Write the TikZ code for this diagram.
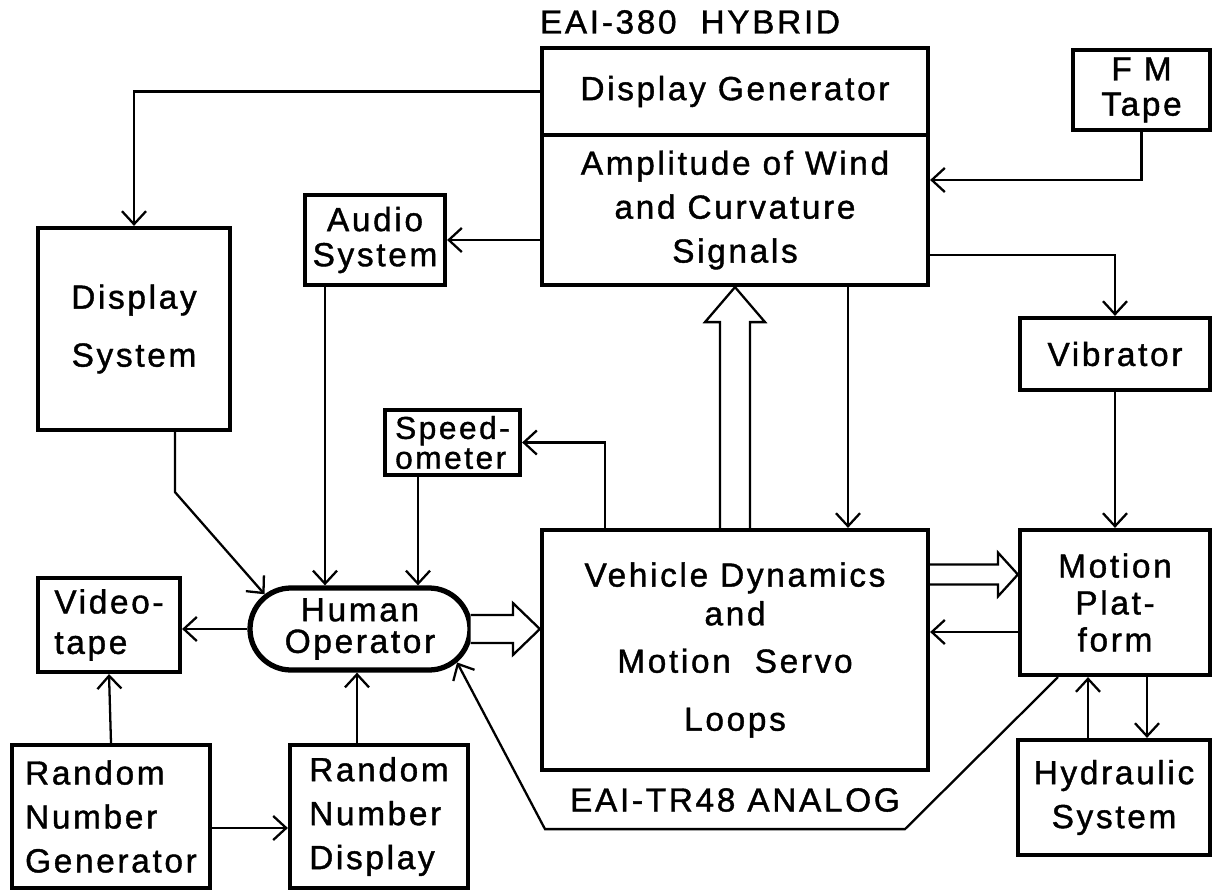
\documentclass[tikz,border=0pt]{standalone}
\usepackage{fontspec}
\setmainfont{Liberation Sans}[LetterSpace=8,FakeBold=1.2]
\usetikzlibrary{positioning,arrows.meta,shapes.misc,calc}

\begin{document}
\begin{tikzpicture}[x=0.2mm,y=-0.2mm,>={Straight Barb[length=2.6mm,width=4.8mm]},
  every node/.style={font=\fontsize{19}{25}\selectfont},
  blk/.style={draw,line width=2.4pt,align=center,inner sep=0pt},
  link/.style={->,line width=1.3pt},
  fat/.style={line width=1.3pt,fill=white,line join=miter}]
\useasboundingbox (0,0) rectangle (1212,890);
\node (hybrid) at (690,22) {EAI-380\ \ HYBRID};
\node[blk,minimum width=77.2mm,minimum height=17.4mm] (gen) at (735,91.5) {Display Generator};
\node[blk,minimum width=77.2mm,minimum height=30mm] (amp) at (735,210) {Amplitude of Wind\\and Curvature\\Signals};
\node[blk,minimum width=27.4mm,minimum height=16mm] (fm) at (1141.5,90) {F M\\[-5pt]Tape};
\node[blk,minimum width=38mm,minimum height=14.4mm] (vib) at (1115,354) {Vibrator};
\node[blk,minimum width=38mm,minimum height=29mm] (motion) at (1115,602.5) {Motion\\[-4pt]Plat-\\[-4pt]form};
\node[blk,minimum width=38.4mm,minimum height=23mm] (hyd) at (1114,797.5) {Hydraulic\\System};
\node[blk,minimum width=77.2mm,minimum height=48mm] (veh) at (735,650) {Vehicle Dynamics\\[-3pt]and\\[2pt]Motion\ \ Servo\\[8pt]Loops};
\node (analog) at (735,800) {EAI-TR48 ANALOG};
\node[blk,align=left,minimum width=27mm,minimum height=13mm,font=\fontsize{18}{17}\selectfont] (speedo) at (452.5,442.5) {Speed-\\ometer};
\node[blk,minimum width=28mm,minimum height=18mm] (audio) at (375,240) {Audio\\[-5pt]System};
\node[blk,minimum width=38.4mm,minimum height=40.4mm] (disp) at (134,329) {Display\\[8pt]System};
\node[draw,rounded rectangle,line width=3pt,align=center,inner sep=0pt,minimum width=44mm,minimum height=16.4mm] (human) at (360,629) {Human\\[-7pt]Operator};
\node[blk,align=left,minimum width=28.4mm,minimum height=18.8mm] (video) at (109,625) {Video-\\[-2pt]tape};
\node[blk,align=left,minimum width=39.6mm,minimum height=28.6mm] (rng) at (111,816.5) {Random\\Number\\Generator};
\node[blk,align=left,minimum width=35.6mm,minimum height=28.6mm] (rnd) at (379,816.5) {Random\\Number\\Display};

\draw[link] (gen.west) -| (disp.north);
\draw[link] (amp.west |- audio.east) -- (audio.east);
\draw[link] (fm.south) |- ([yshift=6mm]amp.east);
\draw[link] ([yshift=-9mm]amp.east) -| (vib.north);
\draw[link] (vib.south) -- (motion.north);
\draw[link] ([xshift=22.6mm]amp.south) -- ([xshift=22.6mm]veh.north);
\draw[link] ([xshift=-26mm]veh.north) |- (speedo.east);
\draw[link] ([xshift=-6.9mm]speedo.south) -- ([xshift=-6.9mm]speedo.south |- human.north);
\draw[link] ([xshift=-10mm]audio.south) -- ([xshift=-10mm]audio.south |- human.north);
\draw[link] ([xshift=8.2mm]disp.south) -- ++(0,60) -- (human.160);
\draw[link] (human.west) -- (video.east |- human.west);
\draw[link] (rng.north) -- (video.south);
\draw[link] ([yshift=-2.3mm]rng.east) -- ([yshift=-2.3mm]rnd.west);
\draw[link] ([xshift=-4.4mm]rnd.north) -- ([xshift=-4.4mm]rnd.north |- human.south);
\draw[link] ([yshift=-5.9mm]motion.west) -- ([yshift=-5.9mm]motion.west -| veh.east);
\draw[link] ([xshift=-5.2mm]hyd.north) -- ([xshift=-5.2mm]hyd.north |- motion.south);
\draw[link] ([xshift=6.4mm]motion.south) -- ([xshift=6.4mm]motion.south |- hyd.north);
\draw[link] ([xshift=-11.4mm]motion.south) -- ++(-153,152) -- ++(-360,0) -- (human.-19);

% wide arrows
\coordinate (hv) at (veh.west |- human.east);
\draw[fat] ($(human.east)+(-2,-14)$) -- ($(hv)+(-27,-14)$) -- ($(hv)+(-27,-26)$) -- (hv) -- ($(hv)+(-27,26)$) -- ($(hv)+(-27,14)$) -- ($(human.east)+(-2,14)$);
\coordinate (vm) at ($(motion.west)+(0,-28)$);
\coordinate (vmL) at (vm -| veh.east);
\draw[fat] ($(vmL)+(0,-10)$) -- ($(vm)+(-20,-10)$) -- ($(vm)+(-20,-22)$) -- (vm) -- ($(vm)+(-20,22)$) -- ($(vm)+(-20,10)$) -- ($(vmL)+(0,10)$);
\draw[fat] ($(veh.north)+(-15,0)$) -- ($(amp.south)+(-15,35)$) -- ($(amp.south)+(-30,35)$) -- (amp.south) -- ($(amp.south)+(30,35)$) -- ($(amp.south)+(15,35)$) -- ($(veh.north)+(15,0)$);
\end{tikzpicture}
\end{document}
